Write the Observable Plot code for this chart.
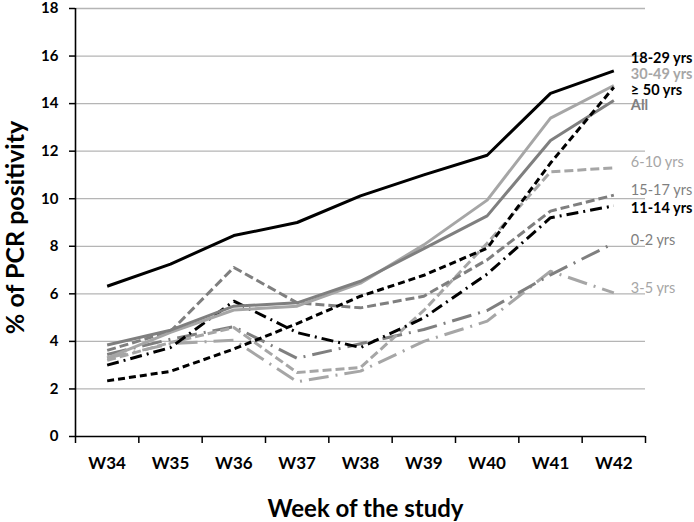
<!DOCTYPE html>
<html>
<head>
<meta charset="utf-8">
<script src="https://cdn.jsdelivr.net/npm/d3@7"></script>
<script src="https://cdn.jsdelivr.net/npm/@observablehq/plot@0.6"></script>
<style>
  html, body { margin: 0; padding: 0; background: #fff; }
  #chart svg { font-family: Lato, "Noto Sans", sans-serif; display: block; }
</style>
</head>
<body>
<div id="chart"></div>
<script>
// ---- Data ----
const weeks = ["W34", "W35", "W36", "W37", "W38", "W39", "W40", "W41", "W42"];
const yTicks = [0, 2, 4, 6, 8, 10, 12, 14, 16, 18];

const seriesNames = ["18-29 yrs", "30-49 yrs", "\u2265 50 yrs", "All", "6-10 yrs", "15-17 yrs", "11-14 yrs", "0-2 yrs", "3-5 yrs"];

const age18_29 = [6.32, 7.25, 8.45, 9.0, 10.12, 11.0, 11.83, 14.43, 15.38];
const age30_49 = [3.3, 4.38, 5.32, 5.48, 6.45, 8.06, 9.94, 13.39, 14.76];
const age50plus = [2.34, 2.74, 3.68, 4.75, 5.9, 6.78, 7.92, 11.5, 14.69];
const ageAll = [3.85, 4.47, 5.48, 5.62, 6.53, 7.9, 9.28, 12.45, 14.13];
const age6_10 = [3.2, 3.95, 4.58, 2.69, 2.9, 5.3, 8.13, 11.13, 11.3];
const age15_17 = [3.62, 4.42, 7.11, 5.62, 5.41, 5.9, 7.43, 9.48, 10.15];
const age11_14 = [3.0, 3.74, 5.69, 4.37, 3.74, 4.99, 6.83, 9.2, 9.7];
const age0_2 = [3.45, 4.09, 4.62, 3.29, 3.9, 4.5, 5.3, 6.8, 8.13];
const age3_5 = [3.3, 3.9, 4.05, 2.3, 2.75, 4.0, 4.85, 6.95, 6.04];

const seriesValues = [age18_29, age30_49, age50plus, ageAll, age6_10, age15_17, age11_14, age0_2, age3_5];

// ---- Styles (separate from the data) ----
const BLACK = "#000000", MID = "#7f7f7f", LIGHT = "#a6a6a6";
const styles = [
  { color: BLACK, dash: null,         label: "bold",   labelDy: -12.5 },
  { color: LIGHT, dash: null,         label: "bold",   labelDy: -11 },
  { color: BLACK, dash: "7,4",        label: "bold",   labelDy: 2.8 },
  { color: MID,   dash: null,         label: "bold",   labelDy: 4.6 },
  { color: LIGHT, dash: "9,4",        label: "normal", labelDy: -5.3 },
  { color: MID,   dash: "9,4",        label: "normal", labelDy: -5.1 },
  { color: BLACK, dash: "12,5,2,5",   label: "bold",   labelDy: 2.5 },
  { color: MID,   dash: "20,7,2,7",   label: "normal", labelDy: -2.4 },
  { color: LIGHT, dash: "20,7,2,7",   label: "normal", labelDy: -4.9 }
];

const rowsFor = (k) => seriesValues[k].map((v, i) => ({ series: seriesNames[k], i, v }));

const lineMarks = [];
const labelMarks = [];
// draw lighter series first so darker ones sit on top
const drawOrder = [8, 7, 4, 5, 6, 1, 3, 2, 0];
for (const k of drawOrder) {
  const s = styles[k];
  lineMarks.push(Plot.line(rowsFor(k), {
    x: "i", y: "v", stroke: s.color, strokeWidth: 3,
    strokeDasharray: s.dash, strokeLinecap: "butt", strokeLinejoin: "round"
  }));
}
for (let k = 0; k < seriesNames.length; k++) {
  const s = styles[k];
  const last = rowsFor(k).slice(-1);
  labelMarks.push(Plot.text(last, {
    x: "i", y: "v", text: "series", dx: 17, dy: s.labelDy,
    textAnchor: "start", fill: s.color, fontWeight: s.label, fontSize: 14.5
  }));
}

const boundaries = d3.range(weeks.length + 1).map(i => i - 0.5);

const chart = Plot.plot({
  width: 694,
  height: 522,
  marginLeft: 75,
  marginRight: 49,
  marginTop: 8,
  marginBottom: 86,
  x: { type: "linear", domain: [-0.5, weeks.length - 0.5] },
  y: { domain: [0, 18] },
  marks: [
    Plot.gridY(yTicks.filter(d => d > 0), { stroke: "#b5b5b5", strokeOpacity: 1, strokeWidth: 1.3 }),
    ...lineMarks,
    Plot.axisY(yTicks, {
      tickSize: 6, tickPadding: 11, fontSize: 15, fontWeight: "bold",
      stroke: BLACK, strokeWidth: 1.5, fill: BLACK, label: null, tickFormat: d => d
    }),
    Plot.axisX(boundaries, {
      tickSize: 7, stroke: BLACK, strokeWidth: 1.5, tickFormat: () => "", label: null
    }),
    Plot.axisX(d3.range(weeks.length), {
      tickSize: 0, tickPadding: 20, fontSize: 17, fontWeight: "bold",
      fill: BLACK, label: null, tickFormat: i => weeks[i]
    }),
    Plot.ruleY([0], { stroke: BLACK, strokeWidth: 1.6 }),
    Plot.ruleX([-0.5], { stroke: BLACK, strokeWidth: 1.6 }),
    ...labelMarks,
    Plot.text(["Week of the study"], {
      frameAnchor: "bottom", dx: 5, dy: 73, lineAnchor: "middle", textAnchor: "middle",
      fontSize: 24, fontWeight: "bold", fill: BLACK
    }),
    Plot.text(["% of PCR positivity"], {
      frameAnchor: "left", dx: -60, dy: 5, rotate: -90, lineAnchor: "middle", textAnchor: "middle",
      fontSize: 25, fontWeight: "bold", fill: BLACK
    })
  ]
});

document.getElementById("chart").appendChild(chart);
</script>
</body>
</html>
